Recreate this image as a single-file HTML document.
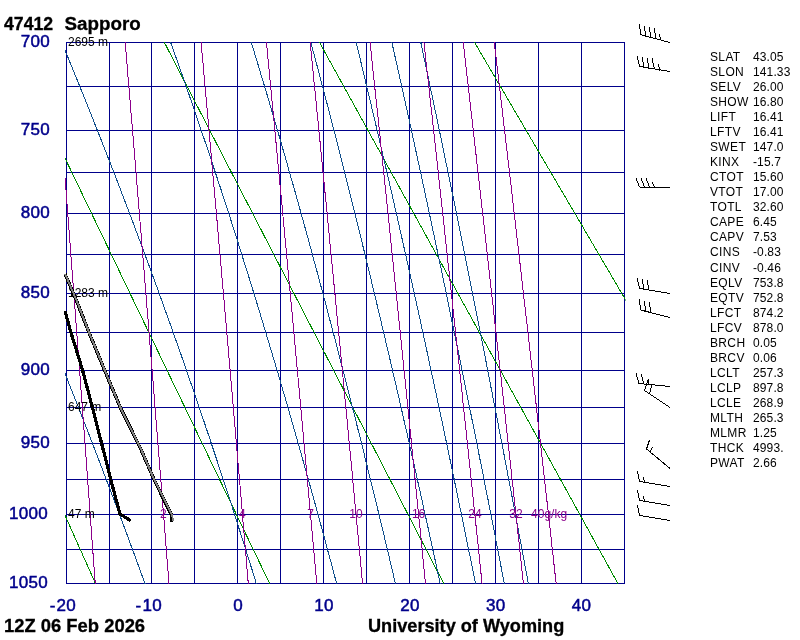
<!DOCTYPE html>
<html><head><meta charset="utf-8"><title>47412 Sapporo</title>
<style>
html,body{margin:0;padding:0;background:#fff;overflow:hidden;}
svg{display:block;}
text{font-family:"Liberation Sans",Arial,Helvetica,sans-serif;}
.ax{font-size:17px;letter-spacing:0.3px;fill:#00008b;stroke:#00008b;stroke-width:0.5px;}
.ti{font-size:18px;font-weight:bold;fill:#000;stroke:#000;stroke-width:0.3px;}
.ix{font-size:12px;fill:#000;}
.ixl{letter-spacing:0.35px;}
.ixv{letter-spacing:0.12px;}
.ht{font-size:12px;fill:#000;}
.mr{font-size:12px;fill:#8b008b;}
</style></head>
<body>
<svg width="800" height="640" viewBox="0 0 800 640">
<rect width="800" height="640" fill="#fff"/>
<defs><clipPath id="sbox"><rect x="64" y="40" width="563" height="545"/></clipPath><clipPath id="box"><rect x="65" y="42" width="560.5" height="542"/></clipPath></defs>
<g shape-rendering="crispEdges">
<rect x="66" y="42" width="1" height="542" fill="#00008b"/>
<rect x="109" y="42" width="1" height="542" fill="#00008b"/>
<rect x="151" y="42" width="1" height="542" fill="#00008b"/>
<rect x="194" y="42" width="1" height="542" fill="#00008b"/>
<rect x="237" y="42" width="1" height="542" fill="#00008b"/>
<rect x="280" y="42" width="1" height="542" fill="#00008b"/>
<rect x="323" y="42" width="1" height="542" fill="#00008b"/>
<rect x="366" y="42" width="1" height="542" fill="#00008b"/>
<rect x="409" y="42" width="1" height="542" fill="#00008b"/>
<rect x="452" y="42" width="1" height="542" fill="#00008b"/>
<rect x="495" y="42" width="1" height="542" fill="#00008b"/>
<rect x="538" y="42" width="1" height="542" fill="#00008b"/>
<rect x="581" y="42" width="1" height="542" fill="#00008b"/>
<rect x="624" y="42" width="1" height="542" fill="#00008b"/>
<rect x="66" y="42" width="559" height="1" fill="#00008b"/>
<rect x="66" y="86" width="559" height="1" fill="#00008b"/>
<rect x="66" y="130" width="559" height="1" fill="#00008b"/>
<rect x="66" y="172" width="559" height="1" fill="#00008b"/>
<rect x="66" y="213" width="559" height="1" fill="#00008b"/>
<rect x="66" y="254" width="559" height="1" fill="#00008b"/>
<rect x="66" y="293" width="559" height="1" fill="#00008b"/>
<rect x="66" y="332" width="559" height="1" fill="#00008b"/>
<rect x="66" y="370" width="559" height="1" fill="#00008b"/>
<rect x="66" y="407" width="559" height="1" fill="#00008b"/>
<rect x="66" y="443" width="559" height="1" fill="#00008b"/>
<rect x="66" y="479" width="559" height="1" fill="#00008b"/>
<rect x="66" y="514" width="559" height="1" fill="#00008b"/>
<rect x="66" y="549" width="559" height="1" fill="#00008b"/>
<rect x="66" y="583" width="559" height="1" fill="#00008b"/>
<g clip-path="url(#box)">
<polyline points="-154.0,23.9 98.2,589.7" fill="none" stroke="#008b00" stroke-width="1" />
<polyline points="0.4,23.9 272.6,589.7" fill="none" stroke="#008b00" stroke-width="1" />
<polyline points="154.8,23.9 446.9,589.7" fill="none" stroke="#008b00" stroke-width="1" />
<polyline points="309.3,23.9 621.3,589.7" fill="none" stroke="#008b00" stroke-width="1" />
<polyline points="463.7,23.9 795.6,589.7" fill="none" stroke="#008b00" stroke-width="1" />
<polyline points="-82.0,23.9 -78.0,33.0 -74.0,42.0 -70.1,51.0 -66.2,59.9 -62.3,68.8 -58.5,77.6 -54.7,86.4 -50.9,95.1 -47.1,103.8 -43.4,112.5 -39.7,121.1 -36.0,129.7 -32.3,138.2 -28.7,146.7 -25.1,155.2 -21.5,163.6 -17.9,172.0 -14.4,180.3 -10.9,188.6 -7.4,196.9 -3.9,205.1 -0.5,213.3 2.9,221.4 6.3,229.6 9.7,237.6 13.0,245.7 16.4,253.7 19.7,261.7 22.9,269.6 26.2,277.5 29.4,285.4 32.6,293.2 35.8,301.0 39.0,308.8 42.2,316.6 45.3,324.3 48.4,332.0 51.5,339.6 54.5,347.2 57.6,354.8 60.6,362.4 63.6,369.9 66.6,377.4 69.5,384.9 72.5,392.3 75.4,399.7 78.3,407.1 81.2,414.4 84.0,421.8 86.9,429.1 89.7,436.3 92.5,443.6 95.3,450.8 98.0,458.0 100.8,465.1 103.5,472.3 106.2,479.4 108.9,486.5 111.6,493.5 114.2,500.5 116.9,507.6 119.5,514.5 122.1,521.5 124.7,528.4 127.3,535.3 129.8,542.2 132.3,549.1 134.9,555.9 137.4,562.7 139.8,569.5 142.3,576.3 144.8,583.0 147.2,589.7" fill="none" stroke="#104e8b" stroke-width="1" />
<polyline points="54.1,23.9 57.9,33.0 61.6,42.0 65.3,51.0 69.0,59.9 72.6,68.8 76.2,77.6 79.8,86.4 83.3,95.1 86.8,103.8 90.3,112.5 93.7,121.1 97.1,129.7 100.5,138.2 103.8,146.7 107.1,155.2 110.4,163.6 113.7,172.0 116.9,180.3 120.1,188.6 123.2,196.9 126.4,205.1 129.5,213.3 132.6,221.4 135.6,229.6 138.6,237.6 141.6,245.7 144.6,253.7 147.6,261.7 150.5,269.6 153.4,277.5 156.3,285.4 159.1,293.2 161.9,301.0 164.7,308.8 167.5,316.6 170.3,324.3 173.0,332.0 175.7,339.6 178.4,347.2 181.1,354.8 183.7,362.4 186.3,369.9 188.9,377.4 191.5,384.9 194.1,392.3 196.6,399.7 199.1,407.1 201.6,414.4 204.1,421.8 206.5,429.1 209.0,436.3 211.4,443.6 213.8,450.8 216.2,458.0 218.5,465.1 220.9,472.3 223.2,479.4 225.5,486.5 227.8,493.5 230.1,500.5 232.4,507.6 234.6,514.5 236.8,521.5 239.0,528.4 241.2,535.3 243.4,542.2 245.6,549.1 247.7,555.9 249.8,562.7 252.0,569.5 254.1,576.3 256.1,583.0 258.2,589.7" fill="none" stroke="#104e8b" stroke-width="1" />
<polyline points="164.0,23.9 167.3,33.0 170.5,42.0 173.7,51.0 176.9,59.9 180.0,68.8 183.1,77.6 186.2,86.4 189.2,95.1 192.2,103.8 195.2,112.5 198.1,121.1 201.0,129.7 203.9,138.2 206.8,146.7 209.6,155.2 212.4,163.6 215.2,172.0 217.9,180.3 220.7,188.6 223.4,196.9 226.0,205.1 228.7,213.3 231.3,221.4 233.9,229.6 236.5,237.6 239.0,245.7 241.5,253.7 244.0,261.7 246.5,269.6 249.0,277.5 251.4,285.4 253.9,293.2 256.3,301.0 258.6,308.8 261.0,316.6 263.3,324.3 265.6,332.0 267.9,339.6 270.2,347.2 272.5,354.8 274.7,362.4 277.0,369.9 279.2,377.4 281.3,384.9 283.5,392.3 285.7,399.7 287.8,407.1 289.9,414.4 292.0,421.8 294.1,429.1 296.2,436.3 298.3,443.6 300.3,450.8 302.3,458.0 304.3,465.1 306.3,472.3 308.3,479.4 310.3,486.5 312.2,493.5 314.2,500.5 316.1,507.6 318.0,514.5 319.9,521.5 321.8,528.4 323.7,535.3 325.6,542.2 327.4,549.1 329.2,555.9 331.1,562.7 332.9,569.5 334.7,576.3 336.5,583.0 338.2,589.7" fill="none" stroke="#104e8b" stroke-width="1" />
<polyline points="245.6,23.9 248.4,33.0 251.2,42.0 253.9,51.0 256.6,59.9 259.3,68.8 261.9,77.6 264.6,86.4 267.2,95.1 269.7,103.8 272.3,112.5 274.8,121.1 277.3,129.7 279.8,138.2 282.2,146.7 284.7,155.2 287.1,163.6 289.4,172.0 291.8,180.3 294.2,188.6 296.5,196.9 298.8,205.1 301.1,213.3 303.3,221.4 305.6,229.6 307.8,237.6 310.0,245.7 312.2,253.7 314.3,261.7 316.5,269.6 318.6,277.5 320.7,285.4 322.8,293.2 324.9,301.0 327.0,308.8 329.0,316.6 331.0,324.3 333.1,332.0 335.1,339.6 337.0,347.2 339.0,354.8 341.0,362.4 342.9,369.9 344.8,377.4 346.8,384.9 348.6,392.3 350.5,399.7 352.4,407.1 354.3,414.4 356.1,421.8 357.9,429.1 359.8,436.3 361.6,443.6 363.4,450.8 365.1,458.0 366.9,465.1 368.7,472.3 370.4,479.4 372.1,486.5 373.9,493.5 375.6,500.5 377.3,507.6 379.0,514.5 380.6,521.5 382.3,528.4 384.0,535.3 385.6,542.2 387.3,549.1 388.9,555.9 390.5,562.7 392.1,569.5 393.7,576.3 395.3,583.0 396.9,589.7" fill="none" stroke="#104e8b" stroke-width="1" />
<polyline points="305.9,23.9 308.3,33.0 310.7,42.0 313.1,51.0 315.5,59.9 317.9,68.8 320.2,77.6 322.5,86.4 324.8,95.1 327.1,103.8 329.3,112.5 331.6,121.1 333.8,129.7 336.0,138.2 338.1,146.7 340.3,155.2 342.4,163.6 344.5,172.0 346.6,180.3 348.7,188.6 350.8,196.9 352.8,205.1 354.9,213.3 356.9,221.4 358.9,229.6 360.9,237.6 362.8,245.7 364.8,253.7 366.7,261.7 368.6,269.6 370.6,277.5 372.4,285.4 374.3,293.2 376.2,301.0 378.0,308.8 379.9,316.6 381.7,324.3 383.5,332.0 385.3,339.6 387.1,347.2 388.9,354.8 390.7,362.4 392.4,369.9 394.1,377.4 395.9,384.9 397.6,392.3 399.3,399.7 401.0,407.1 402.7,414.4 404.3,421.8 406.0,429.1 407.7,436.3 409.3,443.6 410.9,450.8 412.5,458.0 414.2,465.1 415.8,472.3 417.3,479.4 418.9,486.5 420.5,493.5 422.1,500.5 423.6,507.6 425.1,514.5 426.7,521.5 428.2,528.4 429.7,535.3 431.2,542.2 432.7,549.1 434.2,555.9 435.7,562.7 437.2,569.5 438.6,576.3 440.1,583.0 441.5,589.7" fill="none" stroke="#104e8b" stroke-width="1" />
<polyline points="351.6,23.9 353.9,33.0 356.1,42.0 358.2,51.0 360.4,59.9 362.5,68.8 364.6,77.6 366.7,86.4 368.8,95.1 370.9,103.8 372.9,112.5 375.0,121.1 377.0,129.7 379.0,138.2 381.0,146.7 382.9,155.2 384.9,163.6 386.8,172.0 388.8,180.3 390.7,188.6 392.6,196.9 394.4,205.1 396.3,213.3 398.2,221.4 400.0,229.6 401.8,237.6 403.6,245.7 405.4,253.7 407.2,261.7 409.0,269.6 410.7,277.5 412.5,285.4 414.2,293.2 416.0,301.0 417.7,308.8 419.4,316.6 421.1,324.3 422.7,332.0 424.4,339.6 426.1,347.2 427.7,354.8 429.3,362.4 431.0,369.9 432.6,377.4 434.2,384.9 435.8,392.3 437.4,399.7 438.9,407.1 440.5,414.4 442.1,421.8 443.6,429.1 445.1,436.3 446.7,443.6 448.2,450.8 449.7,458.0 451.2,465.1 452.7,472.3 454.2,479.4 455.6,486.5 457.1,493.5 458.6,500.5 460.0,507.6 461.5,514.5 462.9,521.5 464.3,528.4 465.7,535.3 467.1,542.2 468.5,549.1 469.9,555.9 471.3,562.7 472.7,569.5 474.1,576.3 475.4,583.0 476.8,589.7" fill="none" stroke="#104e8b" stroke-width="1" />
<polyline points="387.7,23.9 389.7,33.0 391.8,42.0 393.8,51.0 395.8,59.9 397.8,68.8 399.7,77.6 401.7,86.4 403.6,95.1 405.6,103.8 407.5,112.5 409.4,121.1 411.3,129.7 413.1,138.2 415.0,146.7 416.8,155.2 418.7,163.6 420.5,172.0 422.3,180.3 424.1,188.6 425.8,196.9 427.6,205.1 429.3,213.3 431.1,221.4 432.8,229.6 434.5,237.6 436.2,245.7 437.9,253.7 439.6,261.7 441.3,269.6 442.9,277.5 444.6,285.4 446.2,293.2 447.8,301.0 449.4,308.8 451.0,316.6 452.6,324.3 454.2,332.0 455.8,339.6 457.4,347.2 458.9,354.8 460.5,362.4 462.0,369.9 463.5,377.4 465.0,384.9 466.5,392.3 468.0,399.7 469.5,407.1 471.0,414.4 472.5,421.8 474.0,429.1 475.4,436.3 476.9,443.6 478.3,450.8 479.7,458.0 481.2,465.1 482.6,472.3 484.0,479.4 485.4,486.5 486.8,493.5 488.2,500.5 489.5,507.6 490.9,514.5 492.3,521.5 493.6,528.4 495.0,535.3 496.3,542.2 497.7,549.1 499.0,555.9 500.3,562.7 501.6,569.5 502.9,576.3 504.2,583.0 505.5,589.7" fill="none" stroke="#104e8b" stroke-width="1" />
<polyline points="416.8,23.9 418.8,33.0 420.7,42.0 422.6,51.0 424.5,59.9 426.4,68.8 428.3,77.6 430.1,86.4 432.0,95.1 433.8,103.8 435.6,112.5 437.4,121.1 439.2,129.7 441.0,138.2 442.8,146.7 444.5,155.2 446.2,163.6 448.0,172.0 449.7,180.3 451.4,188.6 453.1,196.9 454.8,205.1 456.4,213.3 458.1,221.4 459.7,229.6 461.4,237.6 463.0,245.7 464.6,253.7 466.2,261.7 467.8,269.6 469.4,277.5 470.9,285.4 472.5,293.2 474.1,301.0 475.6,308.8 477.1,316.6 478.7,324.3 480.2,332.0 481.7,339.6 483.2,347.2 484.7,354.8 486.2,362.4 487.6,369.9 489.1,377.4 490.5,384.9 492.0,392.3 493.4,399.7 494.9,407.1 496.3,414.4 497.7,421.8 499.1,429.1 500.5,436.3 501.9,443.6 503.3,450.8 504.7,458.0 506.0,465.1 507.4,472.3 508.7,479.4 510.1,486.5 511.4,493.5 512.8,500.5 514.1,507.6 515.4,514.5 516.7,521.5 518.0,528.4 519.3,535.3 520.6,542.2 521.9,549.1 523.2,555.9 524.5,562.7 525.7,569.5 527.0,576.3 528.2,583.0 529.5,589.7" fill="none" stroke="#104e8b" stroke-width="1" />
<polyline points="53.1,23.9 53.8,33.0 54.5,42.0 55.2,51.0 55.9,59.9 56.6,68.8 57.3,77.6 58.0,86.4 58.7,95.1 59.3,103.8 60.0,112.5 60.7,121.1 61.3,129.7 62.0,138.2 62.6,146.7 63.3,155.2 63.9,163.6 64.6,172.0 65.2,180.3 65.9,188.6 66.5,196.9 67.1,205.1 67.7,213.3 68.4,221.4 69.0,229.6 69.6,237.6 70.2,245.7 70.8,253.7 71.4,261.7 72.0,269.6 72.6,277.5 73.2,285.4 73.8,293.2 74.4,301.0 75.0,308.8 75.5,316.6 76.1,324.3 76.7,332.0 77.3,339.6 77.8,347.2 78.4,354.8 79.0,362.4 79.5,369.9 80.1,377.4 80.6,384.9 81.2,392.3 81.8,399.7 82.3,407.1 82.8,414.4 83.4,421.8 83.9,429.1 84.5,436.3 85.0,443.6 85.5,450.8 86.1,458.0 86.6,465.1 87.1,472.3 87.6,479.4 88.1,486.5 88.7,493.5 89.2,500.5 89.7,507.6 90.2,514.5 90.7,521.5 91.2,528.4 91.7,535.3 92.2,542.2 92.7,549.1 93.2,555.9 93.7,562.7 94.2,569.5 94.7,576.3 95.2,583.0 95.7,589.7" fill="none" stroke="#8b008b" stroke-width="1" />
<polyline points="123.6,23.9 124.4,33.0 125.2,42.0 125.9,51.0 126.7,59.9 127.4,68.8 128.1,77.6 128.9,86.4 129.6,95.1 130.3,103.8 131.0,112.5 131.8,121.1 132.5,129.7 133.2,138.2 133.9,146.7 134.6,155.2 135.3,163.6 136.0,172.0 136.7,180.3 137.3,188.6 138.0,196.9 138.7,205.1 139.4,213.3 140.0,221.4 140.7,229.6 141.4,237.6 142.0,245.7 142.7,253.7 143.3,261.7 144.0,269.6 144.6,277.5 145.2,285.4 145.9,293.2 146.5,301.0 147.1,308.8 147.8,316.6 148.4,324.3 149.0,332.0 149.6,339.6 150.2,347.2 150.8,354.8 151.5,362.4 152.1,369.9 152.7,377.4 153.3,384.9 153.9,392.3 154.4,399.7 155.0,407.1 155.6,414.4 156.2,421.8 156.8,429.1 157.4,436.3 157.9,443.6 158.5,450.8 159.1,458.0 159.6,465.1 160.2,472.3 160.8,479.4 161.3,486.5 161.9,493.5 162.4,500.5 163.0,507.6 163.5,514.5 164.1,521.5 164.6,528.4 165.2,535.3 165.7,542.2 166.3,549.1 166.8,555.9 167.3,562.7 167.9,569.5 168.4,576.3 168.9,583.0 169.4,589.7" fill="none" stroke="#8b008b" stroke-width="1" />
<polyline points="199.4,23.9 200.2,33.0 201.0,42.0 201.8,51.0 202.7,59.9 203.5,68.8 204.2,77.6 205.0,86.4 205.8,95.1 206.6,103.8 207.4,112.5 208.2,121.1 208.9,129.7 209.7,138.2 210.4,146.7 211.2,155.2 211.9,163.6 212.7,172.0 213.4,180.3 214.2,188.6 214.9,196.9 215.6,205.1 216.4,213.3 217.1,221.4 217.8,229.6 218.5,237.6 219.2,245.7 219.9,253.7 220.6,261.7 221.3,269.6 222.0,277.5 222.7,285.4 223.4,293.2 224.1,301.0 224.7,308.8 225.4,316.6 226.1,324.3 226.8,332.0 227.4,339.6 228.1,347.2 228.7,354.8 229.4,362.4 230.1,369.9 230.7,377.4 231.3,384.9 232.0,392.3 232.6,399.7 233.3,407.1 233.9,414.4 234.5,421.8 235.2,429.1 235.8,436.3 236.4,443.6 237.0,450.8 237.6,458.0 238.2,465.1 238.9,472.3 239.5,479.4 240.1,486.5 240.7,493.5 241.3,500.5 241.9,507.6 242.5,514.5 243.0,521.5 243.6,528.4 244.2,535.3 244.8,542.2 245.4,549.1 246.0,555.9 246.5,562.7 247.1,569.5 247.7,576.3 248.2,583.0 248.8,589.7" fill="none" stroke="#8b008b" stroke-width="1" />
<polyline points="264.7,23.9 265.5,33.0 266.4,42.0 267.3,51.0 268.1,59.9 269.0,68.8 269.8,77.6 270.7,86.4 271.5,95.1 272.3,103.8 273.2,112.5 274.0,121.1 274.8,129.7 275.6,138.2 276.4,146.7 277.2,155.2 278.0,163.6 278.8,172.0 279.6,180.3 280.4,188.6 281.2,196.9 282.0,205.1 282.7,213.3 283.5,221.4 284.3,229.6 285.0,237.6 285.8,245.7 286.5,253.7 287.3,261.7 288.0,269.6 288.7,277.5 289.5,285.4 290.2,293.2 290.9,301.0 291.7,308.8 292.4,316.6 293.1,324.3 293.8,332.0 294.5,339.6 295.2,347.2 295.9,354.8 296.6,362.4 297.3,369.9 298.0,377.4 298.7,384.9 299.4,392.3 300.1,399.7 300.7,407.1 301.4,414.4 302.1,421.8 302.8,429.1 303.4,436.3 304.1,443.6 304.7,450.8 305.4,458.0 306.0,465.1 306.7,472.3 307.3,479.4 308.0,486.5 308.6,493.5 309.3,500.5 309.9,507.6 310.5,514.5 311.2,521.5 311.8,528.4 312.4,535.3 313.0,542.2 313.7,549.1 314.3,555.9 314.9,562.7 315.5,569.5 316.1,576.3 316.7,583.0 317.3,589.7" fill="none" stroke="#8b008b" stroke-width="1" />
<polyline points="308.3,23.9 309.2,33.0 310.1,42.0 311.0,51.0 311.9,59.9 312.8,68.8 313.6,77.6 314.5,86.4 315.4,95.1 316.3,103.8 317.1,112.5 318.0,121.1 318.8,129.7 319.7,138.2 320.5,146.7 321.3,155.2 322.2,163.6 323.0,172.0 323.8,180.3 324.6,188.6 325.5,196.9 326.3,205.1 327.1,213.3 327.9,221.4 328.7,229.6 329.5,237.6 330.2,245.7 331.0,253.7 331.8,261.7 332.6,269.6 333.3,277.5 334.1,285.4 334.9,293.2 335.6,301.0 336.4,308.8 337.1,316.6 337.9,324.3 338.6,332.0 339.4,339.6 340.1,347.2 340.8,354.8 341.6,362.4 342.3,369.9 343.0,377.4 343.7,384.9 344.4,392.3 345.1,399.7 345.8,407.1 346.6,414.4 347.3,421.8 347.9,429.1 348.6,436.3 349.3,443.6 350.0,450.8 350.7,458.0 351.4,465.1 352.1,472.3 352.7,479.4 353.4,486.5 354.1,493.5 354.7,500.5 355.4,507.6 356.1,514.5 356.7,521.5 357.4,528.4 358.0,535.3 358.7,542.2 359.3,549.1 360.0,555.9 360.6,562.7 361.2,569.5 361.9,576.3 362.5,583.0 363.1,589.7" fill="none" stroke="#8b008b" stroke-width="1" />
<polyline points="368.1,23.9 369.1,33.0 370.0,42.0 371.0,51.0 371.9,59.9 372.8,68.8 373.8,77.6 374.7,86.4 375.6,95.1 376.5,103.8 377.5,112.5 378.4,121.1 379.3,129.7 380.2,138.2 381.0,146.7 381.9,155.2 382.8,163.6 383.7,172.0 384.5,180.3 385.4,188.6 386.3,196.9 387.1,205.1 388.0,213.3 388.8,221.4 389.7,229.6 390.5,237.6 391.3,245.7 392.1,253.7 393.0,261.7 393.8,269.6 394.6,277.5 395.4,285.4 396.2,293.2 397.0,301.0 397.8,308.8 398.6,316.6 399.4,324.3 400.2,332.0 401.0,339.6 401.7,347.2 402.5,354.8 403.3,362.4 404.0,369.9 404.8,377.4 405.6,384.9 406.3,392.3 407.1,399.7 407.8,407.1 408.6,414.4 409.3,421.8 410.0,429.1 410.8,436.3 411.5,443.6 412.2,450.8 412.9,458.0 413.7,465.1 414.4,472.3 415.1,479.4 415.8,486.5 416.5,493.5 417.2,500.5 417.9,507.6 418.6,514.5 419.3,521.5 420.0,528.4 420.7,535.3 421.4,542.2 422.1,549.1 422.7,555.9 423.4,562.7 424.1,569.5 424.8,576.3 425.4,583.0 426.1,589.7" fill="none" stroke="#8b008b" stroke-width="1" />
<polyline points="421.8,23.9 422.9,33.0 423.9,42.0 424.9,51.0 425.8,59.9 426.8,68.8 427.8,77.6 428.8,86.4 429.7,95.1 430.7,103.8 431.7,112.5 432.6,121.1 433.6,129.7 434.5,138.2 435.4,146.7 436.3,155.2 437.3,163.6 438.2,172.0 439.1,180.3 440.0,188.6 440.9,196.9 441.8,205.1 442.7,213.3 443.6,221.4 444.5,229.6 445.3,237.6 446.2,245.7 447.1,253.7 447.9,261.7 448.8,269.6 449.7,277.5 450.5,285.4 451.3,293.2 452.2,301.0 453.0,308.8 453.9,316.6 454.7,324.3 455.5,332.0 456.3,339.6 457.1,347.2 458.0,354.8 458.8,362.4 459.6,369.9 460.4,377.4 461.2,384.9 462.0,392.3 462.7,399.7 463.5,407.1 464.3,414.4 465.1,421.8 465.9,429.1 466.6,436.3 467.4,443.6 468.2,450.8 468.9,458.0 469.7,465.1 470.4,472.3 471.2,479.4 471.9,486.5 472.7,493.5 473.4,500.5 474.1,507.6 474.9,514.5 475.6,521.5 476.3,528.4 477.0,535.3 477.8,542.2 478.5,549.1 479.2,555.9 479.9,562.7 480.6,569.5 481.3,576.3 482.0,583.0 482.7,589.7" fill="none" stroke="#8b008b" stroke-width="1" />
<polyline points="461.1,23.9 462.1,33.0 463.2,42.0 464.2,51.0 465.2,59.9 466.2,68.8 467.2,77.6 468.3,86.4 469.3,95.1 470.2,103.8 471.2,112.5 472.2,121.1 473.2,129.7 474.2,138.2 475.1,146.7 476.1,155.2 477.0,163.6 478.0,172.0 478.9,180.3 479.9,188.6 480.8,196.9 481.7,205.1 482.7,213.3 483.6,221.4 484.5,229.6 485.4,237.6 486.3,245.7 487.2,253.7 488.1,261.7 489.0,269.6 489.9,277.5 490.7,285.4 491.6,293.2 492.5,301.0 493.4,308.8 494.2,316.6 495.1,324.3 495.9,332.0 496.8,339.6 497.6,347.2 498.5,354.8 499.3,362.4 500.1,369.9 501.0,377.4 501.8,384.9 502.6,392.3 503.4,399.7 504.2,407.1 505.0,414.4 505.8,421.8 506.6,429.1 507.4,436.3 508.2,443.6 509.0,450.8 509.8,458.0 510.6,465.1 511.4,472.3 512.1,479.4 512.9,486.5 513.7,493.5 514.4,500.5 515.2,507.6 516.0,514.5 516.7,521.5 517.5,528.4 518.2,535.3 519.0,542.2 519.7,549.1 520.4,555.9 521.2,562.7 521.9,569.5 522.6,576.3 523.4,583.0 524.1,589.7" fill="none" stroke="#8b008b" stroke-width="1" />
<polyline points="492.1,23.9 493.1,33.0 494.2,42.0 495.3,51.0 496.3,59.9 497.4,68.8 498.4,77.6 499.4,86.4 500.5,95.1 501.5,103.8 502.5,112.5 503.5,121.1 504.5,129.7 505.5,138.2 506.5,146.7 507.5,155.2 508.5,163.6 509.4,172.0 510.4,180.3 511.4,188.6 512.3,196.9 513.3,205.1 514.2,213.3 515.2,221.4 516.1,229.6 517.0,237.6 518.0,245.7 518.9,253.7 519.8,261.7 520.7,269.6 521.6,277.5 522.5,285.4 523.4,293.2 524.3,301.0 525.2,308.8 526.1,316.6 527.0,324.3 527.9,332.0 528.7,339.6 529.6,347.2 530.5,354.8 531.3,362.4 532.2,369.9 533.0,377.4 533.9,384.9 534.7,392.3 535.6,399.7 536.4,407.1 537.2,414.4 538.0,421.8 538.9,429.1 539.7,436.3 540.5,443.6 541.3,450.8 542.1,458.0 542.9,465.1 543.7,472.3 544.5,479.4 545.3,486.5 546.1,493.5 546.9,500.5 547.7,507.6 548.5,514.5 549.2,521.5 550.0,528.4 550.8,535.3 551.5,542.2 552.3,549.1 553.1,555.9 553.8,562.7 554.6,569.5 555.3,576.3 556.1,583.0 556.8,589.7" fill="none" stroke="#8b008b" stroke-width="1" />
</g>
</g>
<g>
<text x="50" y="47" text-anchor="end" class="ax">700</text>
<text x="50" y="135" text-anchor="end" class="ax">750</text>
<text x="50" y="218" text-anchor="end" class="ax">800</text>
<text x="50" y="298" text-anchor="end" class="ax">850</text>
<text x="50" y="375" text-anchor="end" class="ax">900</text>
<text x="50" y="448" text-anchor="end" class="ax">950</text>
<text x="48" y="519" text-anchor="end" class="ax">1000</text>
<text x="48" y="588" text-anchor="end" class="ax">1050</text>
<text x="76.1" y="610.6" text-anchor="end" class="ax">-<tspan dx="0.9">20</tspan></text>
<text x="161.9" y="610.6" text-anchor="end" class="ax">-<tspan dx="0.9">10</tspan></text>
<text x="238.2" y="610.6" text-anchor="middle" class="ax">0</text>
<text x="324.0" y="610.6" text-anchor="middle" class="ax">10</text>
<text x="409.9" y="610.6" text-anchor="middle" class="ax">20</text>
<text x="495.7" y="610.6" text-anchor="middle" class="ax">30</text>
<text x="581.6" y="610.6" text-anchor="middle" class="ax">40</text>
<text x="163.4" y="518" text-anchor="middle" class="mr">2</text>
<text x="242.4" y="518" text-anchor="middle" class="mr">4</text>
<text x="310.5" y="518" text-anchor="middle" class="mr">7</text>
<text x="356.0" y="518" text-anchor="middle" class="mr">10</text>
<text x="418.6" y="518" text-anchor="middle" class="mr">16</text>
<text x="474.9" y="518" text-anchor="middle" class="mr">24</text>
<text x="516.0" y="518" text-anchor="middle" class="mr">32</text>
<text x="549.1" y="518" text-anchor="middle" class="mr">40g/kg</text>
<text x="68" y="46" class="ht">2695 m</text>
<text x="68" y="297" class="ht">1283 m</text>
<text x="68" y="411" class="ht">647 m</text>
<text x="68" y="518" class="ht">47 m</text>
<text x="710" y="61" class="ix ixl">SLAT</text><text x="753" y="61" class="ix ixv">43.05</text>
<text x="710" y="76" class="ix ixl">SLON</text><text x="753" y="76" class="ix ixv">141.33</text>
<text x="710" y="91" class="ix ixl">SELV</text><text x="753" y="91" class="ix ixv">26.00</text>
<text x="710" y="106" class="ix ixl">SHOW</text><text x="753" y="106" class="ix ixv">16.80</text>
<text x="710" y="121" class="ix ixl">LIFT</text><text x="753" y="121" class="ix ixv">16.41</text>
<text x="710" y="136" class="ix ixl">LFTV</text><text x="753" y="136" class="ix ixv">16.41</text>
<text x="710" y="151" class="ix ixl">SWET</text><text x="753" y="151" class="ix ixv">147.0</text>
<text x="710" y="166" class="ix ixl">KINX</text><text x="753" y="166" class="ix ixv">-15.7</text>
<text x="710" y="181" class="ix ixl">CTOT</text><text x="753" y="181" class="ix ixv">15.60</text>
<text x="710" y="196" class="ix ixl">VTOT</text><text x="753" y="196" class="ix ixv">17.00</text>
<text x="710" y="211" class="ix ixl">TOTL</text><text x="753" y="211" class="ix ixv">32.60</text>
<text x="710" y="226" class="ix ixl">CAPE</text><text x="753" y="226" class="ix ixv">6.45</text>
<text x="710" y="241" class="ix ixl">CAPV</text><text x="753" y="241" class="ix ixv">7.53</text>
<text x="710" y="256" class="ix ixl">CINS</text><text x="753" y="256" class="ix ixv">-0.83</text>
<text x="710" y="272" class="ix ixl">CINV</text><text x="753" y="272" class="ix ixv">-0.46</text>
<text x="710" y="287" class="ix ixl">EQLV</text><text x="753" y="287" class="ix ixv">753.8</text>
<text x="710" y="302" class="ix ixl">EQTV</text><text x="753" y="302" class="ix ixv">752.8</text>
<text x="710" y="317" class="ix ixl">LFCT</text><text x="753" y="317" class="ix ixv">874.2</text>
<text x="710" y="332" class="ix ixl">LFCV</text><text x="753" y="332" class="ix ixv">878.0</text>
<text x="710" y="347" class="ix ixl">BRCH</text><text x="753" y="347" class="ix ixv">0.05</text>
<text x="710" y="362" class="ix ixl">BRCV</text><text x="753" y="362" class="ix ixv">0.06</text>
<text x="710" y="377" class="ix ixl">LCLT</text><text x="753" y="377" class="ix ixv">257.3</text>
<text x="710" y="392" class="ix ixl">LCLP</text><text x="753" y="392" class="ix ixv">897.8</text>
<text x="710" y="407" class="ix ixl">LCLE</text><text x="753" y="407" class="ix ixv">268.9</text>
<text x="710" y="422" class="ix ixl">MLTH</text><text x="753" y="422" class="ix ixv">265.3</text>
<text x="710" y="437" class="ix ixl">MLMR</text><text x="753" y="437" class="ix ixv">1.25</text>
<text x="710" y="452" class="ix ixl">THCK</text><text x="753" y="452" class="ix ixv">4993.</text>
<text x="710" y="467" class="ix ixl">PWAT</text><text x="753" y="467" class="ix ixv">2.66</text>
<text x="4" y="30" class="ti" style="font-size:17.7px">47412</text>
<text x="64.5" y="30" class="ti" style="font-size:18.8px">Sapporo</text>
<text x="4" y="632" class="ti" style="font-size:18.4px">12Z 06 Feb 2026</text>
<text x="368" y="632" class="ti" style="font-size:18.15px">University of Wyoming</text>
</g>
<g shape-rendering="crispEdges">
<g clip-path="url(#sbox)">
<polyline points="130.6,520.6 120.0,514.0 110.6,479.0 103.3,450.0 92.3,407.0 82.5,370.0 70.8,332.0 65.0,311.0" fill="none" stroke="#000" stroke-width="3.2" stroke-linejoin="round"/>
<polyline points="171.4,521.6 171.2,514.5 153.8,479.0 141.2,450.0 120.1,407.0 104.5,370.0 88.8,332.0 76.2,300.0 65.0,274.0" fill="none" stroke="#000" stroke-width="3.4" stroke-linejoin="round"/>
<polyline points="172.9,521.2 172.2,515.0 153.9,479.0 141.4,450.0 120.2,407.0 104.7,370.0 88.9,332.0 76.4,300.0 65.2,274.0" fill="none" stroke="#808080" stroke-width="1.9" stroke-linejoin="round"/>
</g>
<g>
<polyline points="670.0,42.5 640.5,34.7" fill="none" stroke="#000" stroke-width="1" />
<polyline points="640.8,34.5 639.2,24.0" fill="none" stroke="#000" stroke-width="1" />
<polyline points="645.8,36.0 644.2,26.0" fill="none" stroke="#000" stroke-width="1" />
<polyline points="650.8,37.5 649.2,27.0" fill="none" stroke="#000" stroke-width="1" />
<polyline points="655.8,39.0 654.3,28.0" fill="none" stroke="#000" stroke-width="1" />
<polyline points="660.6,40.0 659.4,34.0" fill="none" stroke="#000" stroke-width="1" />
<polyline points="670.0,71.5 639.6,66.5" fill="none" stroke="#000" stroke-width="1" />
<polyline points="639.6,66.5 637.0,56.0" fill="none" stroke="#000" stroke-width="1" />
<polyline points="644.0,67.5 642.0,57.0" fill="none" stroke="#000" stroke-width="1" />
<polyline points="649.0,68.5 647.0,58.0" fill="none" stroke="#000" stroke-width="1" />
<polyline points="654.5,69.5 652.0,58.0" fill="none" stroke="#000" stroke-width="1" />
<polyline points="660.0,70.5 658.0,64.0" fill="none" stroke="#000" stroke-width="1" />
<polyline points="670.0,187.0 639.5,187.0" fill="none" stroke="#000" stroke-width="1" />
<polyline points="639.5,187.0 636.0,178.0" fill="none" stroke="#000" stroke-width="1" />
<polyline points="644.5,187.0 641.0,178.0" fill="none" stroke="#000" stroke-width="1" />
<polyline points="649.5,187.0 646.0,178.0" fill="none" stroke="#000" stroke-width="1" />
<polyline points="654.5,187.0 652.0,182.0" fill="none" stroke="#000" stroke-width="1" />
<polyline points="670.0,293.5 639.6,288.5" fill="none" stroke="#000" stroke-width="1" />
<polyline points="639.6,288.5 637.0,278.0" fill="none" stroke="#000" stroke-width="1" />
<polyline points="644.0,289.5 642.0,279.0" fill="none" stroke="#000" stroke-width="1" />
<polyline points="649.0,290.0 647.0,280.0" fill="none" stroke="#000" stroke-width="1" />
<polyline points="670.0,317.5 640.6,310.0" fill="none" stroke="#000" stroke-width="1" />
<polyline points="640.8,310.0 639.2,299.0" fill="none" stroke="#000" stroke-width="1" />
<polyline points="645.8,311.0 644.2,301.0" fill="none" stroke="#000" stroke-width="1" />
<polyline points="650.8,312.5 649.2,302.0" fill="none" stroke="#000" stroke-width="1" />
<polyline points="670.0,386.5 639.0,383.5" fill="none" stroke="#000" stroke-width="1" />
<polyline points="639.0,383.5 636.0,373.0" fill="none" stroke="#000" stroke-width="1" />
<polyline points="644.0,384.0 641.0,374.0" fill="none" stroke="#000" stroke-width="1" />
<polyline points="649.0,384.5 648.0,379.0" fill="none" stroke="#000" stroke-width="1" />
<polyline points="670.0,407.5 644.5,390.5" fill="none" stroke="#000" stroke-width="1" />
<polyline points="644.5,390.5 648.5,379.0" fill="none" stroke="#000" stroke-width="1" />
<polyline points="649.5,393.5 652.0,384.0" fill="none" stroke="#000" stroke-width="1" />
<polyline points="670.0,468.5 646.5,449.0" fill="none" stroke="#000" stroke-width="1" />
<polyline points="646.5,449.0 649.5,440.0" fill="none" stroke="#000" stroke-width="1" />
<polyline points="650.0,452.0 652.5,447.5" fill="none" stroke="#000" stroke-width="1" />
<polyline points="670.0,486.5 639.5,481.5" fill="none" stroke="#000" stroke-width="1" />
<polyline points="639.5,481.5 637.5,471.0" fill="none" stroke="#000" stroke-width="1" />
<polyline points="644.5,482.5 643.5,477.0" fill="none" stroke="#000" stroke-width="1" />
<polyline points="670.0,505.5 639.5,500.5" fill="none" stroke="#000" stroke-width="1" />
<polyline points="639.5,500.5 637.5,490.0" fill="none" stroke="#000" stroke-width="1" />
<polyline points="644.5,501.5 643.5,496.0" fill="none" stroke="#000" stroke-width="1" />
<polyline points="670.0,520.5 639.5,515.5" fill="none" stroke="#000" stroke-width="1" />
<polyline points="639.5,515.5 637.5,505.0" fill="none" stroke="#000" stroke-width="1" />
</g>
</g>
</svg>
</body></html>
